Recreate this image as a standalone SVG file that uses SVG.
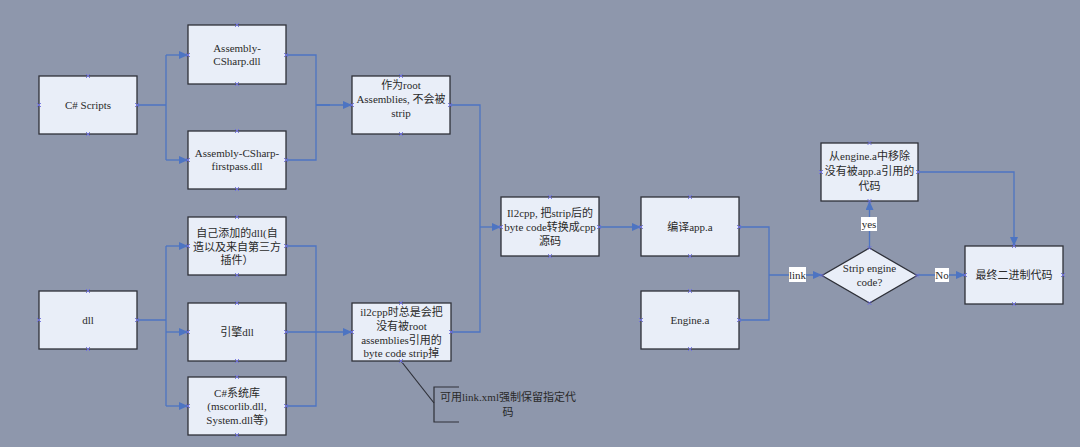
<svg xmlns="http://www.w3.org/2000/svg" xmlns:xlink="http://www.w3.org/1999/xlink" width="1080" height="447" viewBox="0 0 1080 447">
<style>
.box{fill:#e9eef8;stroke:#2e3038;stroke-width:1.3}
.t{font-family:"Liberation Serif","Noto Sans CJK SC",serif;font-size:11px;fill:#2a2a2a;text-anchor:middle}
.c{fill:none;stroke:#4d74c2;stroke-width:1.3}
.a{marker-end:url(#ah)}
.lbl{fill:#ffffff}
.cp{fill:none;stroke:#6f6fe0;stroke-width:0.9}
</style>
<defs>
<marker id="ah" markerUnits="userSpaceOnUse" markerWidth="10" markerHeight="8" refX="9" refY="4" orient="auto">
<path d="M0,0 L9,4 L0,8 z" fill="#4d74c2"/>
</marker>
<path id="cp" class="cp" d="M-2,-2 L2,2 M-2,2 L2,-2"/>
</defs>
<rect width="1080" height="447" fill="#8e97ac"/>

<g id="connectors">
<path class="c" d="M137,105 H166 M166,55 V160"/>
<path class="c a" d="M166,55 H188"/>
<path class="c a" d="M166,160 H188"/>
<path class="c" d="M286,55 H316 V160 H286 M316,105 H330"/>
<path class="c a" d="M316,105 H352"/>
<path class="c" d="M137,320 H166 M166,246 V406"/>
<path class="c a" d="M166,246 H188"/>
<path class="c a" d="M166,332 H188"/>
<path class="c a" d="M166,406 H188"/>
<path class="c" d="M286,246 H316 V406 H286"/>
<path class="c a" d="M286,332 H352"/>
<path class="c" d="M450,105 H480 V332 H451"/>
<path class="c a" d="M480,227 H501"/>
<path class="c a" d="M599,227 H641"/>
<path class="c" d="M739,227 H769 V320 H739"/>
<path class="c a" d="M769,275 H822"/>
<path class="c a" d="M869.5,248 V201"/>
<path class="c a" d="M917,275 H965"/>
<path class="c a" d="M918,172 H1014 V246"/>
<path d="M401,361 L434,403" fill="none" stroke="#2e3038" stroke-width="1.2"/>
<path d="M459,387 H434 V422 H459" fill="none" stroke="#2e3038" stroke-width="1.2"/>
<rect class="lbl" x="789" y="267" width="17" height="15"/>
<text class="t" x="797.5" y="279">link</text>
<rect class="lbl" x="861" y="217" width="16" height="14"/>
<text class="t" x="869" y="228">yes</text>
<rect class="lbl" x="935" y="268" width="14" height="14"/>
<text class="t" x="942" y="279">No</text>
</g>

<g id="n-csharp">
<rect class="box" x="39" y="76" width="98" height="58"/>
<text class="t" x="88" y="109">C# Scripts</text>
<use href="#cp" x="88" y="76"/><use href="#cp" x="88" y="134"/><use href="#cp" x="39" y="105"/><use href="#cp" x="137" y="105"/>
</g>
<g id="n-asm">
<rect class="box" x="188" y="25" width="98" height="59"/>
<text class="t" x="237" y="52">Assembly-</text>
<text class="t" x="237" y="65">CSharp.dll</text>
<use href="#cp" x="237" y="25"/><use href="#cp" x="237" y="84"/><use href="#cp" x="188" y="55"/><use href="#cp" x="286" y="55"/>
</g>
<g id="n-asmfp">
<rect class="box" x="188" y="131" width="98" height="58"/>
<text class="t" x="237" y="157">Assembly-CSharp-</text>
<text class="t" x="237" y="170">firstpass.dll</text>
<use href="#cp" x="237" y="131"/><use href="#cp" x="237" y="189"/><use href="#cp" x="188" y="160"/><use href="#cp" x="286" y="160"/>
</g>
<g id="n-root">
<rect class="box" x="352" y="76" width="98" height="58"/>
<text class="t" x="401" y="89">作为root</text>
<text class="t" x="401" y="103">Assemblies, 不会被</text>
<text class="t" x="401" y="117">strip</text>
<use href="#cp" x="401" y="76"/><use href="#cp" x="401" y="134"/><use href="#cp" x="352" y="105"/><use href="#cp" x="450" y="105"/>
</g>
<g id="n-dll">
<rect class="box" x="39" y="291" width="98" height="58"/>
<text class="t" x="88" y="324">dll</text>
<use href="#cp" x="88" y="291"/><use href="#cp" x="88" y="349"/><use href="#cp" x="39" y="320"/><use href="#cp" x="137" y="320"/>
</g>
<g id="n-own">
<rect class="box" x="188" y="217" width="98" height="58"/>
<text class="t" x="237" y="237">自己添加的dll(自</text>
<text class="t" x="237" y="251">造以及来自第三方</text>
<text class="t" x="237" y="264">插件）</text>
<use href="#cp" x="237" y="217"/><use href="#cp" x="237" y="275"/><use href="#cp" x="188" y="246"/><use href="#cp" x="286" y="246"/>
</g>
<g id="n-engine-dll">
<rect class="box" x="188" y="303" width="98" height="58"/>
<text class="t" x="237" y="336">引擎dll</text>
<use href="#cp" x="237" y="303"/><use href="#cp" x="237" y="361"/><use href="#cp" x="188" y="332"/><use href="#cp" x="286" y="332"/>
</g>
<g id="n-syslib">
<rect class="box" x="188" y="377" width="98" height="58"/>
<text class="t" x="237" y="397">C#系统库</text>
<text class="t" x="237" y="410">(mscorlib.dll,</text>
<text class="t" x="237" y="424">System.dll等)</text>
<use href="#cp" x="237" y="377"/><use href="#cp" x="237" y="435"/><use href="#cp" x="188" y="406"/><use href="#cp" x="286" y="406"/>
</g>
<g id="n-strip">
<rect class="box" x="352" y="303" width="99" height="58"/>
<text class="t" x="401.5" y="316">il2cpp时总是会把</text>
<text class="t" x="401.5" y="330">没有被root</text>
<text class="t" x="401.5" y="344">assemblies引用的</text>
<text class="t" x="401.5" y="357">byte code strip掉</text>
<use href="#cp" x="401" y="303"/><use href="#cp" x="401" y="361"/><use href="#cp" x="352" y="332"/><use href="#cp" x="451" y="332"/>
</g>
<g id="n-note">
<text class="t" x="508" y="401">可用link.xml强制保留指定代</text>
<text class="t" x="508" y="416">码</text>
</g>
<g id="n-il2cpp">
<rect class="box" x="501" y="197" width="98" height="59"/>
<text class="t" x="550" y="217">Il2cpp, 把strip后的</text>
<text class="t" x="550" y="231">byte code转换成cpp</text>
<text class="t" x="550" y="245">源码</text>
<use href="#cp" x="550" y="197"/><use href="#cp" x="550" y="256"/><use href="#cp" x="501" y="227"/><use href="#cp" x="599" y="227"/>
</g>
<g id="n-app">
<rect class="box" x="641" y="197" width="98" height="59"/>
<text class="t" x="690" y="231">编译app.a</text>
<use href="#cp" x="690" y="197"/><use href="#cp" x="690" y="256"/><use href="#cp" x="641" y="227"/><use href="#cp" x="739" y="227"/>
</g>
<g id="n-enginea">
<rect class="box" x="641" y="291" width="98" height="58"/>
<text class="t" x="690" y="324">Engine.a</text>
<use href="#cp" x="690" y="291"/><use href="#cp" x="690" y="349"/><use href="#cp" x="641" y="320"/><use href="#cp" x="739" y="320"/>
</g>
<g id="n-remove">
<rect class="box" x="821" y="143" width="97" height="58"/>
<text class="t" x="869.5" y="160">从engine.a中移除</text>
<text class="t" x="869.5" y="175">没有被app.a引用的</text>
<text class="t" x="869.5" y="190">代码</text>
<use href="#cp" x="869.5" y="143"/><use href="#cp" x="869.5" y="201"/><use href="#cp" x="821" y="172"/><use href="#cp" x="918" y="172"/>
</g>
<g id="n-decision">
<path class="box" d="M869.5,248 L917,275.5 L869.5,303 L822,275.5 Z"/>
<text class="t" x="869.5" y="272">Strip engine</text>
<text class="t" x="869.5" y="286">code?</text>
<use href="#cp" x="869.5" y="248"/><use href="#cp" x="869.5" y="303"/><use href="#cp" x="822" y="275.5"/><use href="#cp" x="917" y="275.5"/>
</g>
<g id="n-final">
<rect class="box" x="965" y="246" width="98" height="58"/>
<text class="t" x="1014" y="279">最终二进制代码</text>
<use href="#cp" x="1014" y="246"/><use href="#cp" x="1014" y="304"/><use href="#cp" x="965" y="275"/><use href="#cp" x="1063" y="275"/>
</g>
</svg>
